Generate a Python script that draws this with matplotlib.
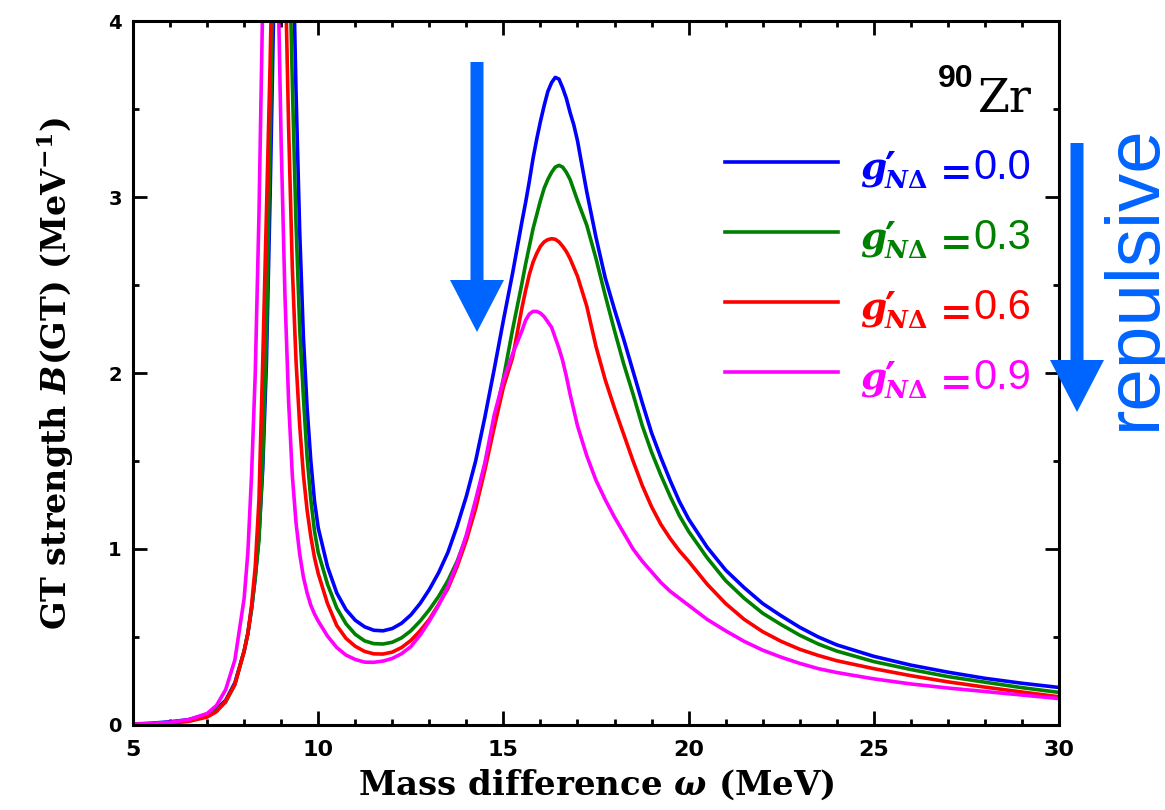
import matplotlib
matplotlib.use('Agg')
import matplotlib.pyplot as plt
from matplotlib.patches import FancyArrow
from matplotlib.ticker import MultipleLocator

plt.rcParams['mathtext.fontset'] = 'custom'
plt.rcParams['mathtext.rm'] = 'DejaVu Serif:bold'
plt.rcParams['mathtext.it'] = 'DejaVu Serif:italic:bold'
plt.rcParams['mathtext.bf'] = 'DejaVu Serif:bold'

# mass difference omega (MeV)
omega = [5.0, 5.5, 6.0, 6.5, 7.0, 7.25, 7.5, 7.75,
         8.0, 8.1, 8.2, 8.3, 8.4, 8.5, 8.6, 8.7, 8.8, 8.9,
         9.0, 9.1, 9.2, 9.3, 9.4, 9.5, 9.6, 9.7, 9.8, 9.9,
         10.0, 10.25, 10.5, 10.75, 11.0, 11.25, 11.5, 11.75,
         12.0, 12.25, 12.5, 12.75, 13.0, 13.25, 13.5, 13.75,
         14.0, 14.25, 14.5, 14.75, 15.0, 15.25,
         15.5, 15.6, 15.7, 15.8, 15.9, 16.0, 16.1, 16.2,
         16.3, 16.4, 16.5, 16.6, 16.7, 16.8, 16.9, 17.0,
         17.25, 17.5, 17.75, 18.0, 18.25, 18.5, 18.75, 19.0,
         19.25, 19.5, 19.75, 20.0,
         20.5, 21.0, 21.5, 22.0, 22.5, 23.0, 23.5, 24.0,
         25.0, 26.0, 27.0, 28.0, 29.0, 30.0]

# B(GT) strength (MeV^-1) for each g'_{N Delta}
bgt_00 = [0.005, 0.01, 0.018, 0.03, 0.06, 0.09, 0.14, 0.24,
          0.42, 0.52, 0.66, 0.84, 1.08, 1.45, 2.05, 3.0, 4.1, 5.3,
          6.3, 6.5, 5.8, 4.6, 3.6, 2.8, 2.2, 1.8, 1.5, 1.27,
          1.12, 0.9, 0.75, 0.655, 0.595, 0.558, 0.538, 0.535,
          0.548, 0.578, 0.625, 0.69, 0.77, 0.865, 0.98, 1.13,
          1.30, 1.50, 1.75, 2.02, 2.30, 2.57,
          2.86, 2.97, 3.09, 3.22, 3.33, 3.43, 3.52, 3.60,
          3.65, 3.68, 3.67, 3.62, 3.56, 3.48, 3.41, 3.32,
          3.03, 2.77, 2.54, 2.36, 2.19, 2.01, 1.83, 1.66,
          1.52, 1.39, 1.27, 1.17,
          1.01, 0.88, 0.78, 0.69, 0.62, 0.555, 0.50, 0.455,
          0.39, 0.34, 0.30, 0.265, 0.237, 0.213]

bgt_03 = [0.003, 0.007, 0.013, 0.025, 0.05, 0.08, 0.13, 0.23,
          0.42, 0.52, 0.66, 0.84, 1.05, 1.5, 2.2, 3.3, 4.5, 5.6,
          6.1, 5.8, 4.6, 3.65, 2.85, 2.25, 1.86, 1.52, 1.28, 1.1,
          0.98, 0.8, 0.665, 0.575, 0.515, 0.478, 0.462, 0.46,
          0.47, 0.495, 0.535, 0.59, 0.655, 0.73, 0.82, 0.93,
          1.07, 1.25, 1.48, 1.72, 1.97, 2.25,
          2.51, 2.62, 2.72, 2.82, 2.90, 2.98, 3.05, 3.10,
          3.14, 3.17, 3.18, 3.17, 3.14, 3.10, 3.04, 2.98,
          2.84, 2.65, 2.44, 2.24, 2.05, 1.88, 1.70, 1.55,
          1.42, 1.30, 1.19, 1.10,
          0.95, 0.82, 0.72, 0.635, 0.57, 0.51, 0.46, 0.42,
          0.36, 0.315, 0.275, 0.243, 0.212, 0.185]

bgt_06 = [0.003, 0.006, 0.01, 0.02, 0.045, 0.075, 0.135, 0.23,
          0.42, 0.52, 0.68, 0.9, 1.28, 2.05, 2.9, 3.75, 4.8, 5.6,
          5.4, 4.4, 3.4, 2.6, 2.07, 1.7, 1.42, 1.22, 1.07, 0.95,
          0.86, 0.69, 0.565, 0.492, 0.447, 0.418, 0.404, 0.403,
          0.414, 0.44, 0.48, 0.535, 0.60, 0.685, 0.775, 0.90,
          1.05, 1.23, 1.45, 1.69, 1.92, 2.09,
          2.37, 2.47, 2.56, 2.63, 2.68, 2.72, 2.745, 2.758,
          2.763, 2.76, 2.745, 2.72, 2.69, 2.65, 2.60, 2.55,
          2.38, 2.15, 1.96, 1.80, 1.65, 1.50, 1.36, 1.24,
          1.14, 1.06, 0.99, 0.93,
          0.80, 0.69, 0.60, 0.53, 0.475, 0.43, 0.395, 0.365,
          0.32, 0.28, 0.245, 0.215, 0.187, 0.16]

bgt_09 = [0.004, 0.008, 0.015, 0.03, 0.065, 0.11, 0.2, 0.37,
          0.72, 0.98, 1.42, 2.0, 2.9, 4.1, 5.3, 6.0, 5.6, 4.4,
          3.3, 2.45, 1.84, 1.42, 1.15, 0.97, 0.84, 0.75, 0.68, 0.63,
          0.59, 0.505, 0.44, 0.397, 0.372, 0.357, 0.356, 0.363,
          0.378, 0.405, 0.445, 0.51, 0.59, 0.68, 0.785, 0.92,
          1.08, 1.28, 1.49, 1.76, 1.96, 2.11,
          2.24, 2.30, 2.335, 2.35, 2.35, 2.34, 2.32, 2.29,
          2.26, 2.20, 2.14, 2.07, 1.98, 1.88, 1.79, 1.70,
          1.53, 1.39, 1.28, 1.18, 1.09, 1.00, 0.93, 0.87,
          0.81, 0.76, 0.72, 0.68,
          0.60, 0.535, 0.475, 0.425, 0.385, 0.35, 0.32, 0.298,
          0.262, 0.233, 0.21, 0.19, 0.17, 0.15]

gvals = ['0.0', '0.3', '0.6', '0.9']
colors = ['#0000ff', '#008000', '#ff0000', '#ff00ff']
series = [bgt_00, bgt_03, bgt_06, bgt_09]

fig = plt.figure(figsize=(11.65, 8.10), dpi=100)
ax = fig.add_axes([0.1142, 0.105, 0.7948, 0.869])

for s, c in zip(series, colors):
    ax.plot(omega, s, color=c, lw=2.6, solid_joinstyle='round')

ax.set_xlim(5, 30)
ax.set_ylim(0, 4)
ax.xaxis.set_major_locator(MultipleLocator(5))
ax.xaxis.set_minor_locator(MultipleLocator(1))
ax.yaxis.set_major_locator(MultipleLocator(1))
ax.yaxis.set_minor_locator(MultipleLocator(0.5))
ax.tick_params(which='both', direction='in', top=True, right=True, width=2.0)
ax.tick_params(which='major', length=10)
ax.tick_params(which='minor', length=4.5)
ax.tick_params(axis='x', pad=11)
ax.tick_params(axis='y', pad=8)
for lab in ax.get_xticklabels():
    lab.set_fontfamily('DejaVu Sans')
    lab.set_fontweight('bold')
    lab.set_fontsize(16)
for lab in ax.get_yticklabels():
    lab.set_fontfamily('DejaVu Sans')
    lab.set_fontweight('bold')
    lab.set_fontsize(14)
for sp in ax.spines.values():
    sp.set_linewidth(2.2)

ax.set_xlabel(r"Mass difference $\omega$ (MeV)", fontfamily='DejaVu Serif',
              fontweight='bold', fontsize=24.5, labelpad=5)
ax.text(-0.084, 0.50, r"GT strength $B$(GT) (MeV$^{-1}$)", transform=ax.transAxes,
        rotation=90, ha='center', va='center', fontfamily='DejaVu Serif',
        fontweight='bold', fontsize=24)

# legend drawn by hand: short line, then g' with N-Delta subscript, "=", value
px = 1.0 / 704  # one pixel in axes-height units
for i, (g, c) in enumerate(zip(gvals, colors)):
    y = 0.80 - i * 0.0995
    ax.plot([0.639, 0.761], [y, y], color=c, lw=2.6, transform=ax.transAxes)
    ax.text(0.785, y - 17 * px, r"$g$", transform=ax.transAxes,
            color=c, fontsize=27, va='baseline', ha='left')
    ax.text(0.811, y + 13 * px, "\u2032", transform=ax.transAxes,
            color=c, fontfamily='DejaVu Sans', fontweight='bold', fontsize=30,
            va='top', ha='left')
    ax.text(0.811, y - 26 * px, r"$N\Delta$", transform=ax.transAxes,
            color=c, fontsize=18, va='baseline', ha='left')
    ax.text(0.862, y - 21 * px, r"$=$", transform=ax.transAxes,
            color=c, fontsize=28, va='baseline', ha='left')
    ax.text(0.908, y - 17 * px, g, transform=ax.transAxes,
            color=c, fontfamily='Liberation Sans', fontsize=30, va='baseline', ha='left')

ax.text(0.971, 0.871, "Zr", transform=ax.transAxes, ha='right', va='baseline',
        fontfamily='DejaVu Serif', fontsize=33)
ax.text(0.908, 0.906, "90", transform=ax.transAxes, ha='right', va='baseline',
        fontfamily='Liberation Sans', fontweight='bold', fontsize=23)

arrow_blue = '#0064ff'


def down_arrow(x_px, top_px, tip_px):
    x = x_px / 100.0
    y0 = (810 - top_px) / 100.0
    y1 = (810 - tip_px) / 100.0
    fig.add_artist(FancyArrow(x, y0, 0, y1 - y0, width=0.13, head_width=0.54,
                              head_length=0.52, length_includes_head=True,
                              color=arrow_blue, lw=0,
                              transform=fig.dpi_scale_trans))


down_arrow(477, 62, 332)
down_arrow(1077, 143, 412)

fig.text(1155 / 1165, (810 - 430) / 810, "repulsive", rotation=90,
         rotation_mode='anchor', ha='left', va='baseline',
         fontfamily='Liberation Sans', fontsize=55, color=arrow_blue)

fig.savefig('out.png', dpi=100)
